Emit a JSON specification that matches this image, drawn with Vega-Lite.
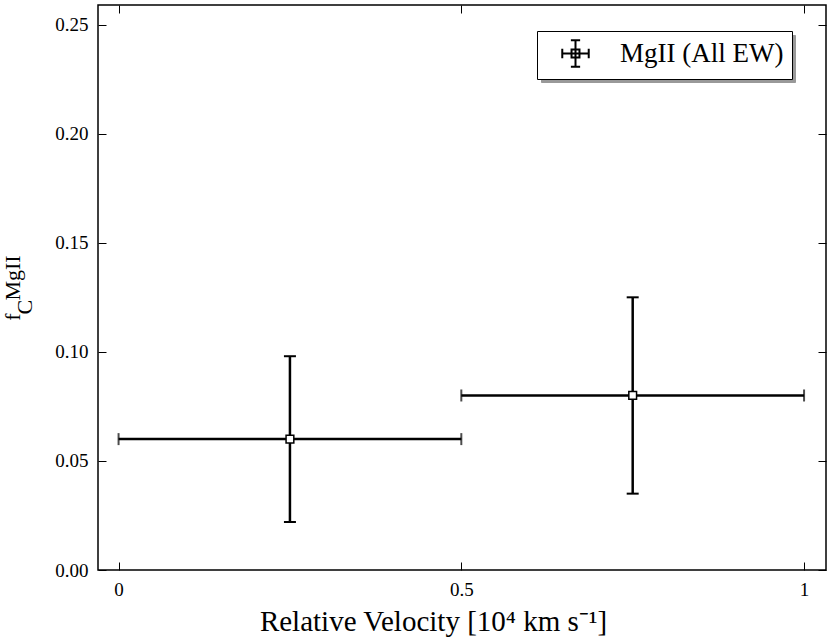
{
  "$schema": "https://vega.github.io/schema/vega-lite/v6.json",
  "width": 728,
  "height": 565,
  "autosize": "none",
  "padding": {"left": 98, "top": 5, "right": 5, "bottom": 72},
  "background": "white",
  "config": {
    "view": {"stroke": "black", "strokeWidth": 1.5},
    "font": "Liberation Serif",
    "axis": {
      "domain": false,
      "ticks": false,
      "grid": true,
      "gridColor": "black",
      "gridOpacity": 1,
      "gridWidth": 1,
      "labelFont": "Liberation Serif",
      "labelFontSize": 19,
      "labelColor": "black",
      "titleFont": "Liberation Serif",
      "titleFontWeight": "normal",
      "titleColor": "black"
    }
  },
  "data": {
    "values": [
      {"v": 0.25, "lo": 0.0, "hi": 0.5, "f": 0.06, "flo": 0.022, "fhi": 0.098, "series": "MgII (All EW)"},
      {"v": 0.75, "lo": 0.5, "hi": 1.0, "f": 0.08, "flo": 0.035, "fhi": 0.125, "series": "MgII (All EW)"}
    ]
  },
  "layer": [
    {
      "mark": {"type": "rule", "color": "black", "strokeWidth": 2.5},
      "encoding": {
        "x": {
          "field": "lo", "type": "quantitative",
          "scale": {"domain": [-0.03, 1.032], "nice": false, "zero": false},
          "axis": {
            "values": [0, 0.5, 1], "labelExpr": "datum.value == 0.5 ? '0.5' : format(datum.value, 'd')",
            "gridDash": [8, 549, 8],
            "labelPadding": 10, "title": "Relative Velocity  [10⁴ km s⁻¹]", "titleFontSize": 29, "titlePadding": 8,
            "titleX": 335, "titleAlign": "center"
          }
        },
        "x2": {"field": "hi"},
        "y": {
          "field": "f", "type": "quantitative",
          "scale": {"domain": [0, 0.259], "nice": false},
          "axis": {
            "values": [0, 0.05, 0.1, 0.15, 0.2, 0.25], "format": ".2f",
            "gridDash": [8, 712, 8],
            "labelPadding": 10, "title": ["f\u2002\u200aMgII", "C\u00a0\u00a0\u00a0\u00a0\u00a0\u00a0\u00a0\u200d"], "titleFontSize": 22, "titleLineHeight": 12, "titlePadding": 18
          }
        }
      }
    },
    {
      "mark": {"type": "rule", "color": "black", "strokeWidth": 2.5},
      "encoding": {
        "x": {"field": "v", "type": "quantitative"},
        "y": {"field": "flo", "type": "quantitative"},
        "y2": {"field": "fhi"}
      }
    },
    {
      "transform": [{"fold": ["lo", "hi"], "as": ["end", "xe"]}],
      "mark": {"type": "tick", "orient": "vertical", "color": "black", "thickness": 2, "size": 12},
      "encoding": {
        "x": {"field": "xe", "type": "quantitative"},
        "y": {"field": "f", "type": "quantitative"}
      }
    },
    {
      "transform": [{"fold": ["flo", "fhi"], "as": ["end", "ye"]}],
      "mark": {"type": "tick", "orient": "horizontal", "color": "black", "thickness": 2, "size": 12},
      "encoding": {
        "x": {"field": "v", "type": "quantitative"},
        "y": {"field": "ye", "type": "quantitative"},
        "opacity": {
          "field": "series", "type": "nominal",
          "scale": {"domain": ["MgII (All EW)"], "range": [1]},
          "legend": {
            "title": null,
            "orient": "none",
            "legendX": 443,
            "legendY": 30,
            "direction": "vertical",
            "strokeColor": "#999999",
            "fillColor": "#999999",
            "padding": 8,
            "symbolType": "square",
            "symbolSize": 700,
            "symbolOpacity": 0,
            "symbolOffset": 16,
            "labelFont": "Liberation Serif",
            "labelFontSize": 27,
            "labelColor": "#999999",
            "labelOffset": 30,
            "labelLimit": 300,
            "zindex": 1
          }
        }
      }
    },
    {
      "mark": {"type": "point", "shape": "square", "filled": true, "fill": "white", "strokeWidth": 1.5, "size": 60, "opacity": 1},
      "encoding": {
        "x": {"field": "v", "type": "quantitative"},
        "y": {"field": "f", "type": "quantitative"},
        "stroke": {
          "field": "series", "type": "nominal",
          "scale": {"range": ["black"]},
          "legend": {
            "title": null,
            "orient": "none",
            "legendX": 439,
            "legendY": 26,
            "direction": "vertical",
            "strokeColor": "black",
            "fillColor": "white",
            "padding": 8,
            "symbolType": "M-1,0H1M0,-1V1M-1,-0.35V0.35M1,-0.35V0.35M-0.35,-1H0.35M-0.35,1H0.35M-0.3,-0.3H0.3V0.3H-0.3Z",
            "symbolSize": 700,
            "symbolStrokeWidth": 2,
            "symbolFillColor": "white",
            "symbolStrokeColor": "black",
            "symbolOffset": 16,
            "labelFont": "Liberation Serif",
            "labelFontSize": 27,
            "labelColor": "black",
            "labelOffset": 30,
            "labelLimit": 300,
            "zindex": 5
          }
        }
      }
    }
  ]
}
